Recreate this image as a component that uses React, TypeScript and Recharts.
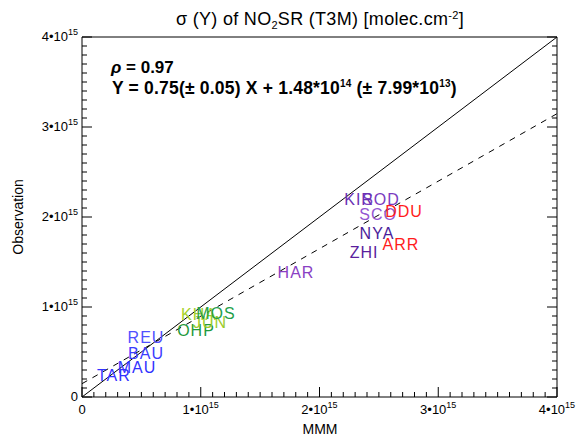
import React from "react";
import { ScatterChart, Scatter, XAxis, YAxis, ReferenceLine } from "recharts";

// station codes with model (MMM) and observed values, molec/cm2
const STATIONS = ["TAR", "MAU", "BAU", "REU", "OHP", "JUN", "KHA", "MOS", "HAR", "ZHI", "NYA", "ARR", "SCO", "DDU", "SOD", "KIR"];
const MMM = [0.269e15, 0.463e15, 0.539e15, 0.539e15, 0.96e15, 1.078e15, 0.985e15, 1.128e15, 1.802e15, 2.375e15, 2.484e15, 2.686e15, 2.493e15, 2.712e15, 2.518e15, 2.333e15];
const OBSERVATION = [0.244e15, 0.333e15, 0.478e15, 0.656e15, 0.744e15, 0.833e15, 0.922e15, 0.933e15, 1.378e15, 1.611e15, 1.822e15, 1.7e15, 2.033e15, 2.056e15, 2.189e15, 2.189e15];
const STATION_COLORS = ["#3232ff", "#3232ff", "#3c3cff", "#5050ff", "#1f9a3c", "#9ccc2a", "#a6d12a", "#24a04a", "#8a3fc4", "#5a1f9e", "#4a1c9a", "#ff1c1c", "#9455d2", "#ff1c1c", "#7a3cc0", "#6a30b4"];

const MAJOR_TICKS = [0, 1e15, 2e15, 3e15, 4e15];
const MINOR_STEP = 1e14;

// linear fit Y = a X + b
const FIT_SLOPE = 0.75;
const FIT_INTERCEPT = 1.48e14;

const DOMAIN: [number, number] = [0, 4e15];
const FONT = "'Liberation Sans', Arial, Helvetica, sans-serif";

const ALL_TICKS: number[] = [];
for (let i = 0; i <= Math.round((DOMAIN[1] - DOMAIN[0]) / MINOR_STEP); i++) {
  ALL_TICKS.push(DOMAIN[0] + i * MINOR_STEP);
}

const isMajor = (v: number) => MAJOR_TICKS.some((m) => Math.abs(m - v) < MINOR_STEP / 10);

const data = STATIONS.map((name, i) => ({ name, x: MMM[i], y: OBSERVATION[i], idx: i }));

function SciLabel({ x, y, value, anchor }: { x: number; y: number; value: number; anchor: "start" | "middle" | "end" }) {
  if (value === 0) {
    return (
      <text x={x} y={y} textAnchor={anchor} fontFamily={FONT} fontSize={13} fill="#000">
        0
      </text>
    );
  }
  const mant = Math.round(value / 1e15);
  return (
    <text x={x} y={y} textAnchor={anchor} fontFamily={FONT} fontSize={13} fill="#000">
      {`${mant}\u202210`}
      <tspan dy={-6} fontSize={9}>15</tspan>
    </text>
  );
}

const BottomTick = (props: any) => {
  const { x, y, payload } = props;
  const major = isMajor(payload.value);
  return (
    <g>
      <line x1={x} x2={x} y1={y} y2={y - (major ? 10 : 5)} stroke="#000" />
      {major && <SciLabel x={x} y={y + 17} value={payload.value} anchor="middle" />}
    </g>
  );
};

const TopTick = (props: any) => {
  const { x, y, payload } = props;
  const major = isMajor(payload.value);
  return <line x1={x} x2={x} y1={y} y2={y + (major ? 10 : 5)} stroke="#000" />;
};

const LeftTick = (props: any) => {
  const { x, y, payload } = props;
  const major = isMajor(payload.value);
  return (
    <g>
      <line x1={x} x2={x + (major ? 10 : 5)} y1={y} y2={y} stroke="#000" />
      {major && <SciLabel x={x - 4} y={y + 4} value={payload.value} anchor="end" />}
    </g>
  );
};

const RightTick = (props: any) => {
  const { x, y, payload } = props;
  const major = isMajor(payload.value);
  return <line x1={x} x2={x - (major ? 10 : 5)} y1={y} y2={y} stroke="#000" />;
};

const StationLabel = (props: any) => {
  const { cx, cy, payload } = props;
  return (
    <text
      x={cx}
      y={cy}
      textAnchor="middle"
      dominantBaseline="central"
      fontFamily={FONT}
      fontSize={16}
      letterSpacing={1}
      fill={STATION_COLORS[payload.idx]}
    >
      {payload.name}
    </text>
  );
};

export default function App() {
  return (
    <div style={{ position: "absolute", left: 0, top: 0, background: "#fff" }}>
      <ScatterChart width={582} height={438} margin={{ top: 36, right: 24, bottom: 40, left: 81 }}>
        <XAxis
          dataKey="x"
          type="number"
          domain={DOMAIN}
          ticks={ALL_TICKS}
          interval={0}
          height={1}
          tickSize={0}
          tickMargin={0}
          tickLine={false}
          tick={BottomTick}
          axisLine={{ stroke: "#000" }}
          allowDataOverflow
        />
        <XAxis
          xAxisId="top"
          orientation="top"
          type="number"
          domain={DOMAIN}
          ticks={ALL_TICKS}
          interval={0}
          height={1}
          tickSize={0}
          tickMargin={0}
          tickLine={false}
          tick={TopTick}
          axisLine={{ stroke: "#000" }}
          allowDataOverflow
        />
        <YAxis
          dataKey="y"
          type="number"
          domain={DOMAIN}
          ticks={ALL_TICKS}
          interval={0}
          width={1}
          tickSize={0}
          tickMargin={0}
          tickLine={false}
          tick={LeftTick}
          axisLine={{ stroke: "#000" }}
          allowDataOverflow
        />
        <YAxis
          yAxisId="right"
          orientation="right"
          type="number"
          domain={DOMAIN}
          ticks={ALL_TICKS}
          interval={0}
          width={1}
          tickSize={0}
          tickMargin={0}
          tickLine={false}
          tick={RightTick}
          axisLine={{ stroke: "#000" }}
          allowDataOverflow
        />
        {/* 1:1 line and regression fit */}
        <ReferenceLine
          segment={[{ x: DOMAIN[0], y: DOMAIN[0] }, { x: DOMAIN[1], y: DOMAIN[1] }]}
          stroke="#000"
          strokeWidth={1}
        />
        <ReferenceLine
          segment={[
            { x: DOMAIN[0], y: FIT_SLOPE * DOMAIN[0] + FIT_INTERCEPT },
            { x: DOMAIN[1], y: FIT_SLOPE * DOMAIN[1] + FIT_INTERCEPT },
          ]}
          stroke="#000"
          strokeWidth={1}
          strokeDasharray="6 6"
        />
        <Scatter data={data} shape={<StationLabel />} isAnimationActive={false} />

        <text x={320} y={25} textAnchor="middle" fontFamily={FONT} fontSize={18} letterSpacing={0.3} fill="#000">
          {"\u03c3 (Y) of NO"}
          <tspan dy={4} fontSize={11}>2</tspan>
          <tspan dy={-4}>{"SR (T3M) [molec.cm"}</tspan>
          <tspan dy={-6} fontSize={11}>-2</tspan>
          <tspan dy={6}>]</tspan>
        </text>
        <text x={111} y={73} fontFamily={FONT} fontSize={17} fontWeight="bold" fill="#000">
          <tspan fontStyle="italic">{"\u03c1"}</tspan>
          {"  = 0.97"}
        </text>
        <text x={112} y={94} fontFamily={FONT} fontSize={17.5} fontWeight="bold" letterSpacing={0.2} fill="#000">
          {"Y = 0.75(\u00b1 0.05) X + 1.48*10"}
          <tspan dy={-7} fontSize={10}>14</tspan>
          <tspan dy={7}>{" (\u00b1 7.99*10"}</tspan>
          <tspan dy={-7} fontSize={10}>13</tspan>
          <tspan dy={7}>)</tspan>
        </text>
        <text x={320} y={434} textAnchor="middle" fontFamily={FONT} fontSize={14} fill="#000">
          MMM
        </text>
        <text
          x={23}
          y={217}
          textAnchor="middle"
          transform="rotate(-90 23 217)"
          fontFamily={FONT}
          fontSize={14}
          fill="#000"
        >
          Observation
        </text>
      </ScatterChart>
    </div>
  );
}
